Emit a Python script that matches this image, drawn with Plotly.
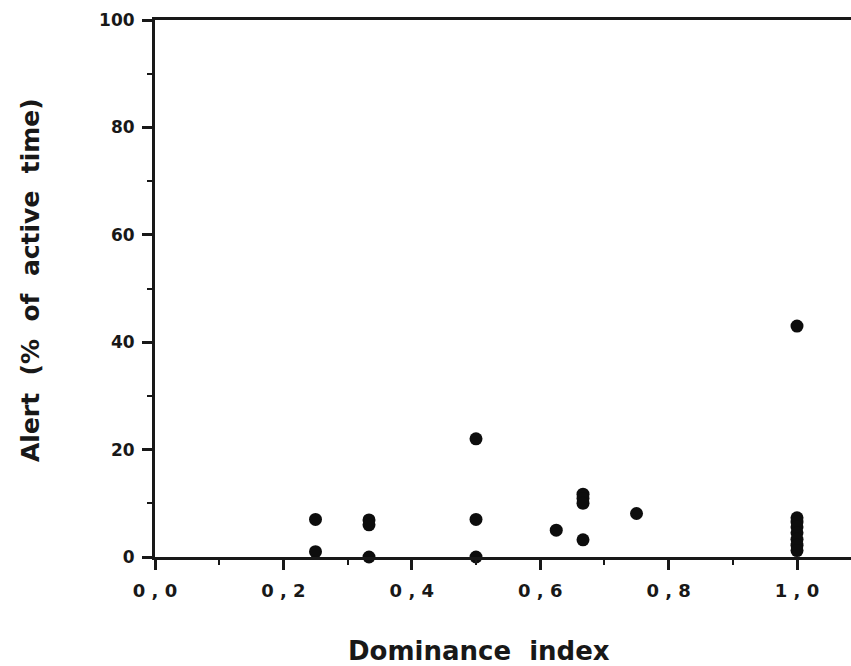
import plotly.graph_objects as go

# Dominance index of each animal and the share of its active time spent alert (%)
dominance = [0.25, 0.25,
             1 / 3, 1 / 3, 1 / 3,
             0.5, 0.5, 0.5,
             0.625,
             2 / 3, 2 / 3, 2 / 3, 2 / 3,
             0.75,
             1.0, 1.0, 1.0, 1.0, 1.0, 1.0, 1.0, 1.0]
alert = [7.0, 1.0,
         6.9, 6.0, 0.0,
         22.0, 7.0, 0.0,
         5.0,
         11.7, 10.9, 10.0, 3.2,
         8.1,
         43.0, 7.3, 6.5, 5.6, 4.5, 3.3, 2.2, 1.2]

x_tick_values = [0.0, 0.2, 0.4, 0.6, 0.8, 1.0]
x_tick_labels = ["0 , 0", "0 , 2", "0 , 4", "0 , 6", "0 , 8", "1 , 0"]
y_tick_values = [0, 20, 40, 60, 80, 100]
y_tick_labels = ["0", "20", "40", "60", "80", "100"]

x_title = "Dominance\u00a0\u00a0index"
y_title = "Alert\u00a0\u00a0(%\u00a0\u00a0of\u00a0\u00a0active\u00a0\u00a0time)"

INK = "#181818"
FONT = "DejaVu Sans"

fig = go.Figure(
    go.Scatter(
        x=dominance,
        y=alert,
        mode="markers",
        marker=dict(size=13, color="#0d0d0d", line=dict(width=0)),
        cliponaxis=False,
        hoverinfo="x+y",
    )
)

fig.update_layout(
    width=851,
    height=666,
    margin=dict(l=155, r=0, t=20, b=109),
    paper_bgcolor="white",
    plot_bgcolor="white",
    showlegend=False,
    font=dict(family=FONT, color=INK),
)

axis_common = dict(
    ticks="outside",
    ticklen=10,
    tickwidth=2.5,
    tickcolor=INK,
    showline=True,
    linewidth=3,
    linecolor=INK,
    showgrid=False,
    zeroline=False,
)

fig.update_xaxes(
    range=[0, 1.0841],
    tickmode="array",
    tickvals=x_tick_values,
    ticktext=x_tick_labels,
    mirror=True,
    ticklabelstandoff=5,
    tickfont=dict(family=FONT, size=18, weight="bold", color=INK),
    minor=dict(ticks="outside", ticklen=5, tickwidth=2, tickcolor=INK,
               tickmode="linear", tick0=0, dtick=0.1, showgrid=False),
    **axis_common,
)

fig.update_yaxes(
    range=[0, 100],
    tickmode="array",
    tickvals=y_tick_values,
    ticktext=y_tick_labels,
    ticklabelstandoff=4,
    tickfont=dict(family=FONT, size=17, weight="bold", color=INK),
    minor=dict(ticks="outside", ticklen=5, tickwidth=2, tickcolor=INK,
               tickmode="linear", tick0=0, dtick=10, showgrid=False),
    **axis_common,
)

# Axis titles, set as free text so they can sit exactly where they belong
fig.add_annotation(
    text=x_title, xref="paper", yref="paper",
    x=(479 - 155) / 696, y=(557 - 651) / 537,
    xanchor="center", yanchor="middle", showarrow=False,
    font=dict(family=FONT, size=26, weight="bold", color=INK),
)
fig.add_annotation(
    text=y_title, xref="paper", yref="paper",
    x=(30 - 155) / 696, y=(557 - 280) / 537,
    xanchor="center", yanchor="middle", textangle=-90, showarrow=False,
    font=dict(family=FONT, size=25, weight="bold", color=INK),
)

fig.write_html("out.html")
